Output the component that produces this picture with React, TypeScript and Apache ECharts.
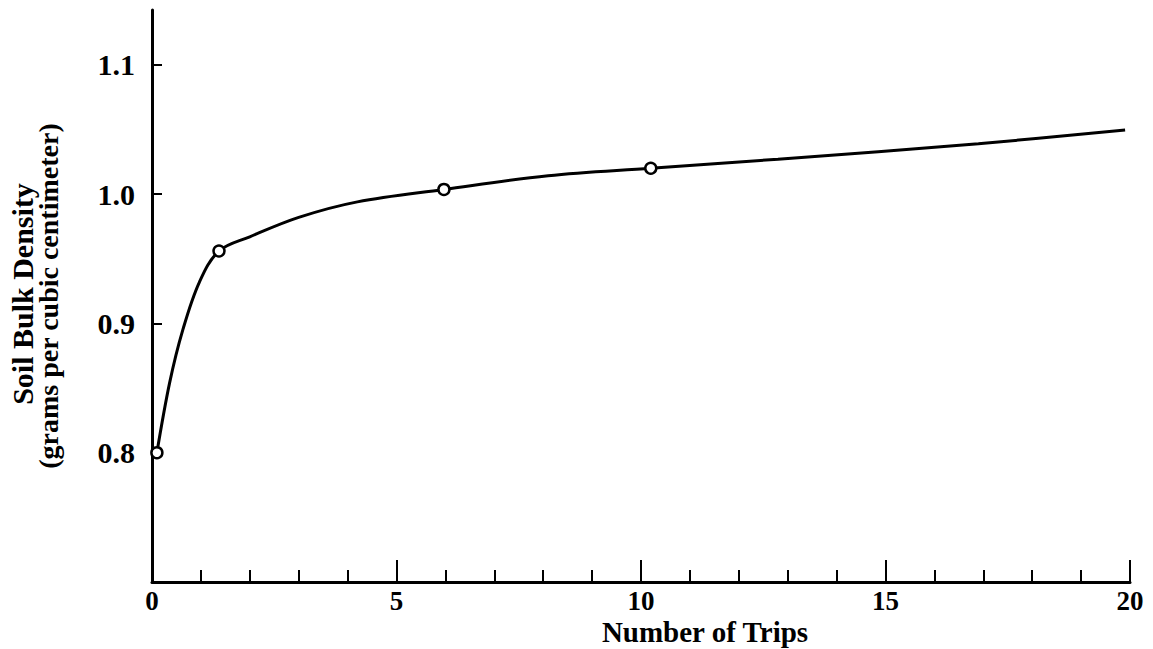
import React, { useEffect, useRef } from "react";
import * as echarts from "echarts";

const curveX = [0.1, 0.36, 0.63, 0.97, 1.37, 2.0, 3.0, 4.2, 5.97, 8.1, 10.2, 12.8, 16.9, 19.9];
const curveY = [0.8, 0.854, 0.895, 0.932, 0.956, 0.967, 0.982, 0.994, 1.0036, 1.0142, 1.02, 1.027, 1.039, 1.0495];
const markerX = [0.1, 1.37, 5.97, 10.2];
const markerY = [0.8, 0.956, 1.0036, 1.02];
const xTickLabels = [0, 5, 10, 15, 20];
const yTickLabels = [0.8, 0.9, 1.0, 1.1];
const xTitle = "Number of Trips";
const yTitle1 = "Soil Bulk Density";
const yTitle2 = "(grams per cubic centimeter)";

const FONT = '"Liberation Serif", "Times New Roman", serif';

export default function App() {
  const ref = useRef<HTMLDivElement>(null);
  useEffect(() => {
    if (!ref.current) return;
    const chart = echarts.init(ref.current, undefined, { renderer: "svg" });
    chart.setOption({
      animation: false,
      backgroundColor: "#ffffff",
      grid: { left: 152, right: 23, top: 10, bottom: 67, containLabel: false },
      xAxis: {
        type: "value",
        min: 0,
        max: 20,
        interval: 5,
        axisLine: { show: true, lineStyle: { color: "#000", width: 3 } },
        axisTick: { show: true, inside: true, length: 22, lineStyle: { color: "#000", width: 2 } },
        minorTick: { show: true, splitNumber: 5, length: 12, lineStyle: { color: "#000", width: 2 } },
        splitLine: { show: false },
        minorSplitLine: { show: false },
        axisLabel: {
          customValues: xTickLabels,
          color: "#000",
          fontFamily: FONT,
          fontWeight: "bold",
          fontSize: 27,
          margin: 5,
          formatter: (v: number) => String(Math.round(v)),
        },
      },
      yAxis: {
        type: "value",
        min: 0.7,
        max: 1.1424,
        axisLine: { show: true, lineStyle: { color: "#000", width: 3 } },
        axisTick: {
          show: true,
          inside: true,
          length: 10,
          customValues: yTickLabels,
          lineStyle: { color: "#000", width: 2 },
        },
        splitLine: { show: false },
        axisLabel: {
          customValues: yTickLabels,
          color: "#000",
          fontFamily: FONT,
          fontWeight: "bold",
          fontSize: 30,
          margin: 17,
          formatter: (v: number) => v.toFixed(1),
        },
      },
      graphic: [
        {
          type: "text",
          x: 705,
          y: 632,
          style: {
            text: xTitle,
            font: `bold 29px ${FONT}`,
            fill: "#000",
            align: "center",
            verticalAlign: "middle",
          },
        },
        {
          type: "text",
          x: 22,
          y: 294,
          rotation: Math.PI / 2,
          style: {
            text: yTitle1,
            font: `bold 30px ${FONT}`,
            fill: "#000",
            align: "center",
            verticalAlign: "middle",
          },
        },
        {
          type: "text",
          x: 48,
          y: 296,
          rotation: Math.PI / 2,
          style: {
            text: yTitle2,
            font: `bold 28px ${FONT}`,
            fill: "#000",
            align: "center",
            verticalAlign: "middle",
          },
        },
      ],
      series: [
        {
          type: "line",
          data: curveX.map((x, i) => [x, curveY[i]]),
          smooth: 0.35,
          showSymbol: false,
          symbol: "none",
          lineStyle: { color: "#000", width: 3 },
          z: 2,
        },
        {
          type: "scatter",
          data: markerX.map((x, i) => [x, markerY[i]]),
          symbol: "circle",
          symbolSize: 11,
          itemStyle: { color: "#fff", borderColor: "#000", borderWidth: 2.5, opacity: 1 },
          z: 3,
        },
      ],
    });
    return () => chart.dispose();
  }, []);
  return (
    <div
      ref={ref}
      style={{ position: "absolute", left: 0, top: 0, width: 1153, height: 649 }}
    />
  );
}
